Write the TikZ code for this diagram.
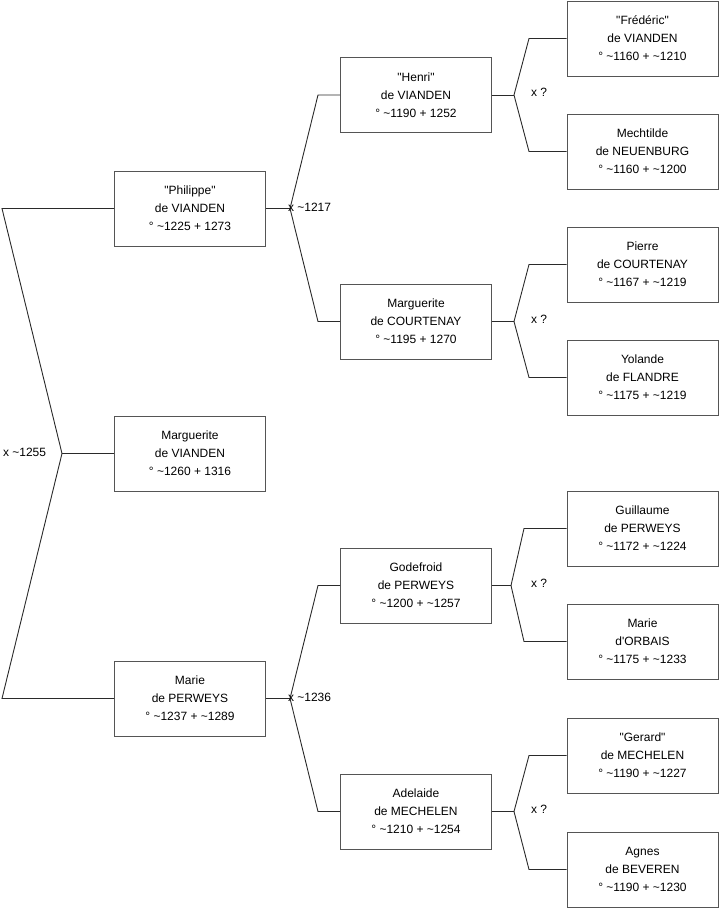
\documentclass[tikz,border=0pt]{standalone}
\usepackage{fontspec}
\setmainfont{Liberation Sans}[Ligatures=TeXOff]
\usepackage{tikz}
\definecolor{boxgray}{HTML}{555555}
\definecolor{linegray}{HTML}{2A2A2A}

\begin{document}
\begin{tikzpicture}[x=1pt, y=-1pt, line width=1pt,
    person/.style={draw=boxgray, fill=white, minimum width=151pt, minimum height=75pt,
      inner sep=0pt, align=center, font=\fontsize{12}{18}\selectfont},
    link/.style={draw=linegray, line width=0.9pt},
    wed/.style={font=\fontsize{12}{14}\selectfont, inner sep=0pt}]
  \useasboundingbox (0,0) rectangle (719,908);
  % generation 1
  \node[person] (marg) at (190,453.5) {Marguerite\\de VIANDEN\\° \textasciitilde1260 + 1316};
  % generation 2
  \node[person] (phil)  at (190,208.5) {"Philippe"\\de VIANDEN\\° \textasciitilde1225 + 1273};
  \node[person] (marie) at (190,698.5) {Marie\\de PERWEYS\\° \textasciitilde1237 + \textasciitilde1289};
  % generation 3
  \node[person] (henri) at (416,95)    {"Henri"\\de VIANDEN\\° \textasciitilde1190 + 1252};
  \node[person] (margc) at (416,321.5) {Marguerite\\de COURTENAY\\° \textasciitilde1195 + 1270};
  \node[person] (gode)  at (416,585.5) {Godefroid\\de PERWEYS\\° \textasciitilde1200 + \textasciitilde1257};
  \node[person] (adel)  at (416,811.5) {Adelaide\\de MECHELEN\\° \textasciitilde1210 + \textasciitilde1254};
  % generation 4
  \node[person] (fred)   at (642.5,38.5)  {"Frédéric"\\de VIANDEN\\° \textasciitilde1160 + \textasciitilde1210};
  \node[person] (mech)   at (642.5,151.5) {Mechtilde\\de NEUENBURG\\° \textasciitilde1160 + \textasciitilde1200};
  \node[person] (pierre) at (642.5,264.5) {Pierre\\de COURTENAY\\° \textasciitilde1167 + \textasciitilde1219};
  \node[person] (yol)    at (642.5,377.5) {Yolande\\de FLANDRE\\° \textasciitilde1175 + \textasciitilde1219};
  \node[person] (guil)   at (642.5,528.5) {Guillaume\\de PERWEYS\\° \textasciitilde1172 + \textasciitilde1224};
  \node[person] (mdo)    at (642.5,641.5) {Marie\\d'ORBAIS\\° \textasciitilde1175 + \textasciitilde1233};
  \node[person] (ger)    at (642.5,755.5) {"Gerard"\\de MECHELEN\\° \textasciitilde1190 + \textasciitilde1227};
  \node[person] (agnes)  at (642.5,869.5) {Agnes\\de BEVEREN\\° \textasciitilde1190 + \textasciitilde1230};

  % first marriage, drawn to the left
  \coordinate (j-marg) at (marg.west -| 62,0);
  \coordinate (a-marg) at (phil.west -| 2,0);
  \coordinate (b-marg) at (marie.west -| 2,0);
  \draw[link] (marg.west) -- (j-marg);
  \draw[link] (phil.west) -- (a-marg) -- (j-marg) -- (b-marg) -- (marie.west);
  \node[wed, anchor=west] (w-marg) at (2.5,452) {x \textasciitilde1255};

  % the other marriages
  \foreach \kid/\dad/\mum/\jx/\ex in {phil/henri/margc/290/318, marie/gode/adel/290/318,
      henri/fred/mech/514/529, margc/pierre/yol/514/529,
      gode/guil/mdo/511/524, adel/ger/agnes/514/529} {
    \coordinate (j-\kid) at (\kid.east -| \jx,0);
    \coordinate (a-\kid) at (\dad.west -| \ex,0);
    \coordinate (b-\kid) at (\mum.west -| \ex,0);
    \draw[link] (\kid.east) -- (j-\kid);
    \draw[link] (\dad.west) -- (a-\kid) -- (j-\kid) -- (b-\kid) -- (\mum.west);
  }
  \node[wed, anchor=west] (w-phil)  at (287.5,207) {x \textasciitilde1217};
  \node[wed, anchor=west] (w-marie) at (287.5,697) {x \textasciitilde1236};
  \node[wed, anchor=west] (w-henri) at (530.5,92)  {x ?};
  \node[wed, anchor=west] (w-margc) at (530.5,319) {x ?};
  \node[wed, anchor=west] (w-gode)  at (530.5,583) {x ?};
  \node[wed, anchor=west] (w-adel)  at (530.5,809) {x ?};
\end{tikzpicture}
\end{document}
